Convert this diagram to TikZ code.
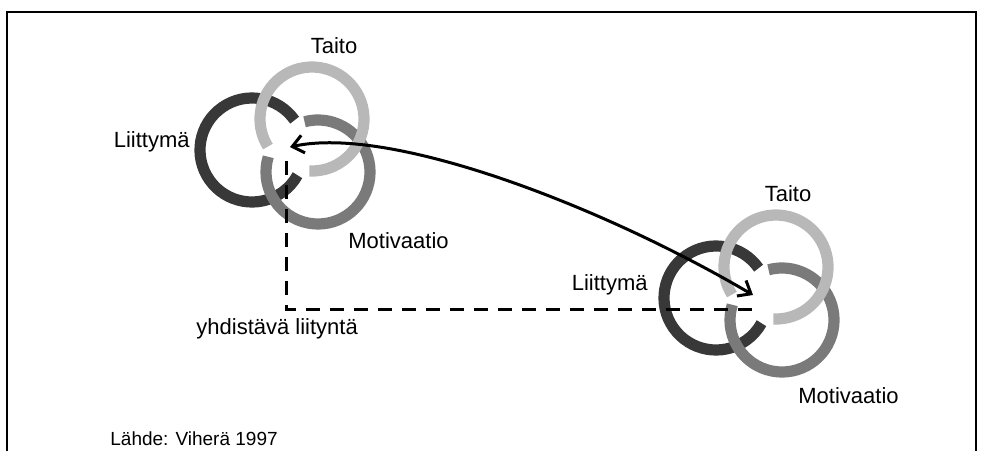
\documentclass[tikz,border=0pt]{standalone}
\usepackage{fontspec}
\setmainfont{Liberation Sans}
\usetikzlibrary{arrows.meta}

\definecolor{liitgray}{gray}{0.22}
\definecolor{motigray}{gray}{0.48}
\definecolor{taitogray}{gray}{0.72}

\tikzstyle{ring}=[line width=5.6pt]
\tikzstyle{ringlabel}=[inner sep=0pt,
                       font=\fontsize{11}{13}\selectfont]
\tikzstyle{joinline}=[line width=1.5pt,
                      dash pattern=on 7pt off 5pt]
\tikzstyle{swing}=[line width=1.5pt,
                   {Straight Barb[length=5.5pt,width=9pt]}-{Straight Barb[length=5.5pt,width=9pt]}]

\begin{document}
\begin{tikzpicture}[x=0.5pt, y=0.5pt]
    \useasboundingbox (0,0) rectangle (983,451);
    % frame, open at the bottom
    \draw[line width=1pt] (7,0) -- (7,439) -- (976,439) -- (976,0);

    % rings: liittyma first, then motivaatio, taito on top
    \foreach \gx/\gy in {252/301, 716/153} {
        \draw[ring, liitgray] (\gx,\gy) ++(35:26pt) arc[start angle=35, end angle=331, radius=26pt];
        \draw[ring, motigray] (\gx+66,\gy-22) ++(163:26pt) arc[start angle=163, end angle=465, radius=26pt];
        \draw[ring, taitogray] (\gx+60,\gy+31) ++(267:26pt) arc[start angle=267, end angle=572, radius=26pt];
    }

    \node[ringlabel, anchor=base] (taitoA) at (334,398) {Taito};
    \node[ringlabel, anchor=base east] (liitA) at (190,304) {Liittymä};
    \node[ringlabel, anchor=base west] (motiA) at (348,203) {Motivaatio};
    \node[ringlabel, anchor=base] (taitoB) at (788,250) {Taito};
    \node[ringlabel, anchor=base east] (liitB) at (648,161) {Liittymä};
    \node[ringlabel, anchor=base west] (motiB) at (798,48) {Motivaatio};
    \node[ringlabel, anchor=base west] (yhd) at (196,117) {yhdistävä liityntä};
    \node[ringlabel, anchor=base west, font=\fontsize{9.5}{11}\selectfont] (lahde) at (110,6) {Lähde: Viherä 1997};

    % dashed link between the two centres
    \coordinate (linkA) at (286,290);
    \coordinate (bend) at (286,142);
    \coordinate (linkB) at (752,142);
    \draw[joinline] (linkA) -- (bend) -- (linkB);

    % curved arrow
    \coordinate (tipA) at (290,304);
    \coordinate (tipB) at (753,156);
    \draw[swing] (tipA) .. controls (390,326) and (600,246) .. (tipB);
\end{tikzpicture}
\end{document}
